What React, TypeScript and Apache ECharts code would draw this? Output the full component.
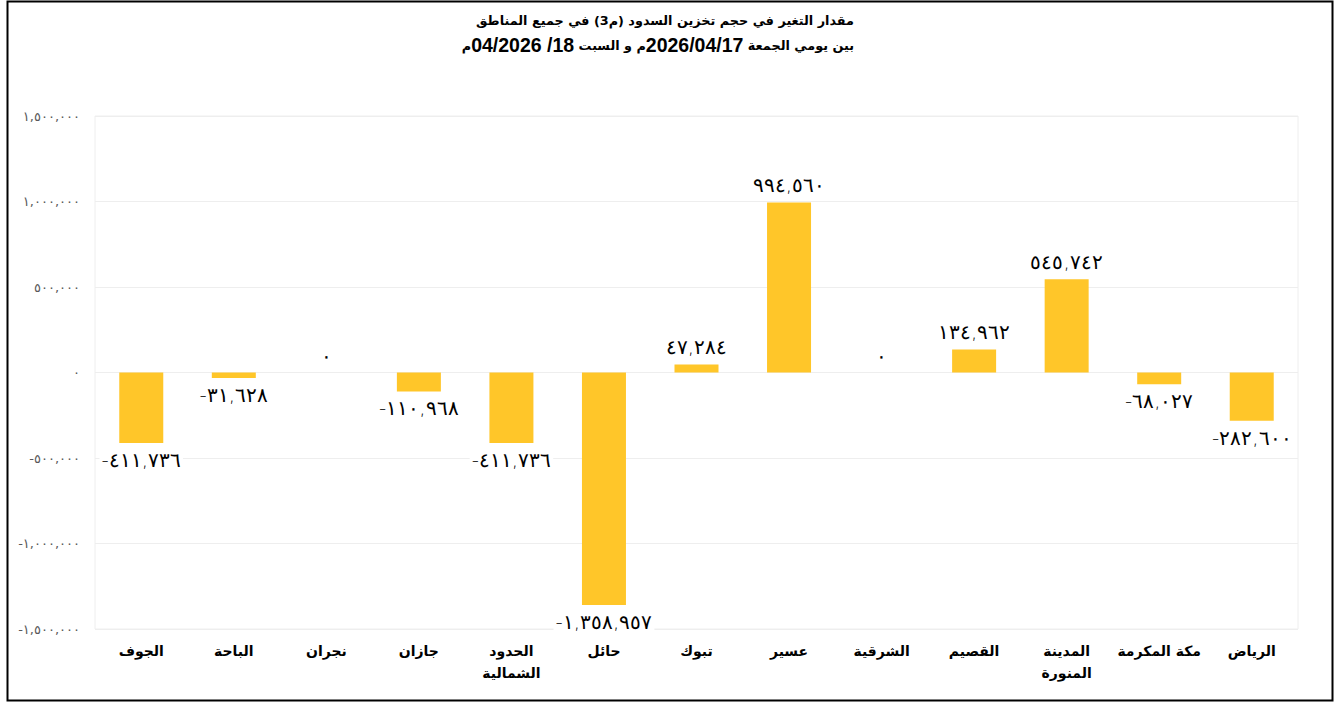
import React, { useEffect, useRef } from "react";
import * as echarts from "echarts";

const regions = [
  "الجوف",
  "الباحة",
  "نجران",
  "جازان",
  "الحدود\nالشمالية",
  "حائل",
  "تبوك",
  "عسير",
  "الشرقية",
  "القصيم",
  "المدينة\nالمنورة",
  "مكة المكرمة",
  "الرياض",
];

const changeValues = [
  -411736, -31628, 0, -110968, -411736, -1358957, 47284, 994560, 0, 134962, 545742, -68027, -282600,
];

const yTicks = [-1500000, -1000000, -500000, 0, 500000, 1000000, 1500000];

const titleLine1 = "مقدار التغير في حجم تخزين السدود (م3) في جميع المناطق";
// second title line ("بين يومي الجمعة 2026/04/17م و السبت 18/ 04/2026م"),
// split into Arabic words and dates, laid out left to right
const titleLine2Parts: [string, string][] = [
  ["a", "م"],
  ["d", "04/2026 /18"],
  ["a", " م و السبت"],
  ["d", "2026/04/17"],
  ["a", " بين يومي الجمعة"],
];

const arDigits = ["٠", "١", "٢", "٣", "٤", "٥", "٦", "٧", "٨", "٩"];
function toArabic(v: number): string {
  const s = Math.abs(v).toLocaleString("en-US");
  const d = s.replace(/[0-9]/g, (c) => arDigits[Number(c)]);
  return (v < 0 ? "-" : "") + d;
}

export default function App() {
  const ref = useRef<HTMLDivElement>(null);
  useEffect(() => {
    if (!ref.current) return;
    const chart = echarts.init(ref.current, undefined, { renderer: "svg" });
    const line2 = titleLine2Parts.map(([k, t]) => `{${k}|${t}}`).join("");
    chart.setOption({
      animation: false,
      backgroundColor: "#ffffff",
      graphic: [
        {
          type: "rect",
          shape: { x: 7.5, y: 1.5, width: 1325, height: 699 },
          style: { fill: "none", stroke: "#000", lineWidth: 2 },
          silent: true,
        },
        {
          type: "text",
          x: 854,
          y: 20,
          style: {
            text: titleLine1,
            fontFamily: "DejaVu Sans, sans-serif",
            fontSize: 12.8,
            fontWeight: "bold",
            fill: "#000",
            align: "right",
            verticalAlign: "middle",
          },
        },
        {
          type: "text",
          x: 854,
          y: 45,
          style: {
            text: line2,
            align: "right",
            verticalAlign: "middle",
            rich: {
              a: {
                fontFamily: "DejaVu Sans, sans-serif",
                fontSize: 12.8,
                fontWeight: "bold",
                fill: "#000",
              },
              d: {
                fontFamily: "Liberation Sans, Arial, sans-serif",
                fontSize: 19.5,
                fontWeight: "bold",
                fill: "#000",
              },
            },
          },
        },
      ],
      grid: {
        left: 95,
        right: 37,
        top: 116,
        bottom: 73,
        show: true,
        borderColor: "#eeeeee",
        borderWidth: 1,
      },
      xAxis: {
        type: "category",
        data: regions,
        axisLine: { show: false, onZero: false },
        axisTick: { show: false },
        axisLabel: {
          interval: 0,
          margin: 11,
          fontFamily: "DejaVu Sans, sans-serif",
          fontSize: 14,
          fontWeight: "bold",
          color: "#000",
          lineHeight: 22,
        },
      },
      yAxis: {
        type: "value",
        min: yTicks[0],
        max: yTicks[yTicks.length - 1],
        interval: 500000,
        axisLine: { show: false },
        axisTick: { show: false },
        splitLine: { lineStyle: { color: "#eeeeee", width: 1 } },
        axisLabel: {
          margin: 15,
          fontFamily: "DejaVu Sans, sans-serif",
          fontSize: 13,
          color: "#595959",
          formatter: (v: number) => toArabic(v),
        },
      },
      series: [
        {
          type: "bar",
          barWidth: 44,
          data: changeValues.map((v) => ({
            value: v,
            label: { position: v < 0 ? "bottom" : "top" },
          })),
          itemStyle: { color: "#FFC629" },
          label: {
            show: true,
            distance: 7,
            fontFamily: "DejaVu Sans, sans-serif",
            fontSize: 20,
            fontWeight: 200,
            color: "#000",
            backgroundColor: "#ffffff",
            padding: [0, 2],
            formatter: (p: any) => toArabic(p.value),
          },
        },
      ],
    });
    return () => chart.dispose();
  }, []);
  return (
    <div
      ref={ref}
      style={{ position: "fixed", left: 0, top: 0, width: 1335, height: 702 }}
    />
  );
}
